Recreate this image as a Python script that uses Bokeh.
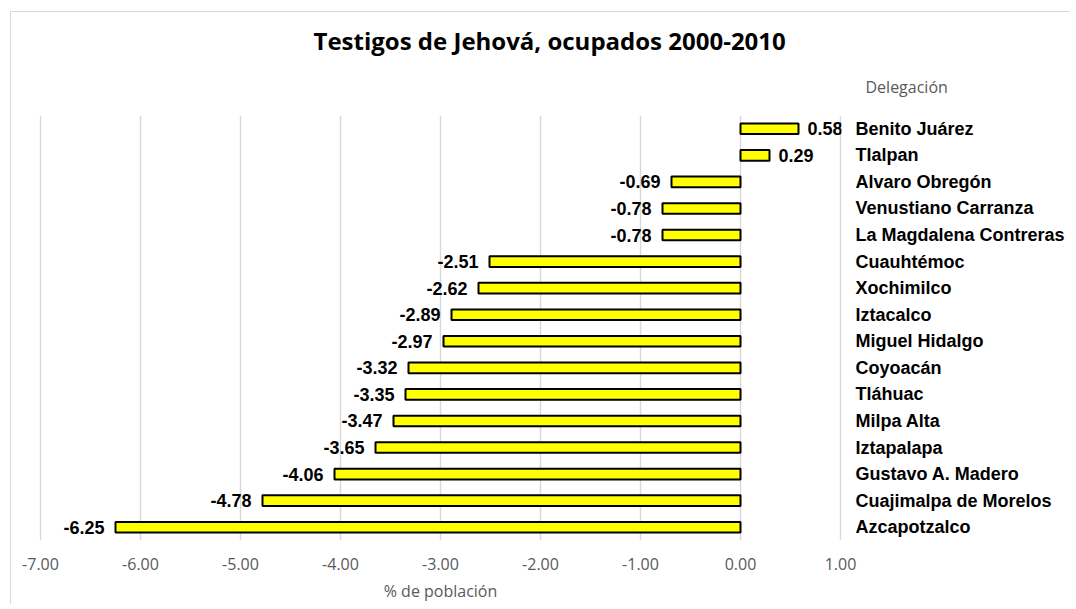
from bokeh.plotting import figure
from bokeh.models import (Range1d, FactorRange, FixedTicker, NumeralTickFormatter,
                          Title, ColumnDataSource)
from bokeh.core.properties import value
from bokeh.embed import file_html
from bokeh.resources import INLINE

# Data (top to bottom as shown)
delegaciones = ["Benito Juárez", "Tlalpan", "Alvaro Obregón", "Venustiano Carranza",
                "La Magdalena Contreras", "Cuauhtémoc", "Xochimilco", "Iztacalco",
                "Miguel Hidalgo", "Coyoacán", "Tláhuac", "Milpa Alta", "Iztapalapa",
                "Gustavo A. Madero", "Cuajimalpa de Morelos", "Azcapotzalco"]
cambio = [0.58, 0.29, -0.69, -0.78, -0.78, -2.51, -2.62, -2.89, -2.97,
          -3.32, -3.35, -3.47, -3.65, -4.06, -4.78, -6.25]
x_ticks = [-7, -6, -5, -4, -3, -2, -1, 0, 1]

titulo = "Testigos de Jehová, ocupados 2000-2010"
titulo_eje_x = "% de población"
titulo_eje_y = "Delegación"

src = ColumnDataSource(dict(
    cat=delegaciones,
    val=cambio,
    lbl=["{:.2f}".format(v) for v in cambio],
    align=["left" if v > 0 else "right" for v in cambio],
    xoff=[9 if v > 0 else -11 for v in cambio],
))

p = figure(width=1060, height=593,
           x_range=Range1d(-7.01, 1.01),
           y_range=FactorRange(factors=list(reversed(delegaciones))),
           y_axis_location="right",
           output_backend="svg", toolbar_location=None,
           min_border_left=28, min_border_right=230,
           min_border_top=103, min_border_bottom=65)

p.styles = {"margin-left": "10px", "margin-top": "11px",
            "border-left": "1px solid #d9d9d9", "border-top": "1px solid #d9d9d9"}

p.outline_line_color = None
p.background_fill_color = "white"
p.border_fill_color = "white"

# grid
p.ygrid.visible = False
p.xgrid.ticker = FixedTicker(ticks=x_ticks)
p.xgrid.grid_line_color = "#d9d9d9"
p.xgrid.grid_line_width = 1.5

# x axis
xa = p.xaxis[0]
xa.ticker = FixedTicker(ticks=x_ticks)
xa.formatter = NumeralTickFormatter(format="0.00")
xa.axis_line_color = None
xa.major_tick_line_color = None
xa.minor_tick_line_color = None
xa.major_label_text_font = "Open Sans"
xa.major_label_text_font_size = "16px"
xa.major_label_text_color = "#595959"
xa.major_label_standoff = 11
xa.axis_label = titulo_eje_x
xa.axis_label_text_font = "Open Sans"
xa.axis_label_text_font_style = "normal"
xa.axis_label_text_font_size = "16px"
xa.axis_label_text_color = "#595959"
xa.axis_label_standoff = 7

# y axis (category labels on the right)
ya = p.yaxis[0]
ya.axis_line_color = None
ya.major_tick_line_color = None
ya.minor_tick_line_color = None
ya.major_tick_out = 0
ya.major_tick_in = 0
ya.major_label_standoff = 14
ya.major_label_text_font = "Liberation Sans"
ya.major_label_text_font_style = "bold"
ya.major_label_text_font_size = "18px"
ya.major_label_text_color = "black"

# bars
p.hbar(y="cat", left=0, right="val", height=0.4, source=src,
       fill_color="#FFFF00", line_color="black", line_width=2)

# value labels
p.text(x="val", y="cat", text="lbl", source=src,
       text_align="align", x_offset="xoff", text_baseline="middle",
       text_font=value("Liberation Sans"), text_font_style="bold",
       text_font_size="18px", text_color="black")

# main title (outermost) and category-axis title (nearest the frame)
p.title.text = titulo
p.title.align = "left"
p.title.offset = 274
p.title.standoff = 0
p.title.text_font = "Open Sans"
p.title.text_font_style = "bold"
p.title.text_font_size = "24px"
p.title.text_color = "black"

p.add_layout(Title(text=titulo_eje_y, align="left", offset=826, standoff=35,
                   text_font="Open Sans", text_font_style="normal",
                   text_font_size="16px", text_color="#595959"), "above")

open("out.html", "w").write(file_html(p, INLINE))
